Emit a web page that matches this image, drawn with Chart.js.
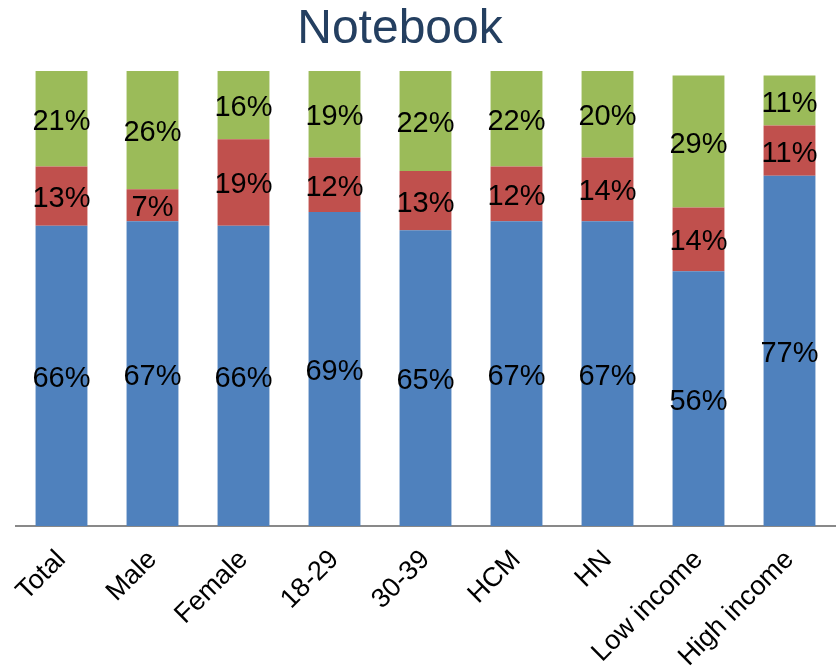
<!DOCTYPE html>
<html>
<head>
<meta charset="utf-8">
<script src="https://cdn.jsdelivr.net/npm/chart.js@4/dist/chart.umd.min.js"></script>
<style>
  html, body { margin: 0; padding: 0; background: #fff; }
  #wrap { width: 839px; height: 671px; }
</style>
</head>
<body>
<div id="wrap"><canvas id="chart"></canvas></div>
<script>
const categories = ['Total', 'Male', 'Female', '18-29', '30-39', 'HCM', 'HN', 'Low income', 'High income']
const blueValues = [66, 67, 66, 69, 65, 67, 67, 56, 77]
const redValues = [13, 7, 19, 12, 13, 12, 14, 14, 11]
const greenValues = [21, 26, 16, 19, 22, 22, 20, 29, 11]

const FONT = '"Liberation Sans", Arial, sans-serif'

// heading, a bit left of the plot centre
const heading = {
    id: 'heading',
    afterDraw(chart) {
        const ctx = chart.ctx
        ctx.save()
        ctx.font = '48px ' + FONT
        ctx.fillStyle = '#243F60'
        ctx.textAlign = 'center'
        ctx.textBaseline = 'alphabetic'
        ctx.fillText('Notebook', 400, 43)
        ctx.restore()
    }
}

// writes the value in the middle of every segment
const segmentLabels = {
    id: 'segmentLabels',
    afterDatasetsDraw(chart) {
        const ctx = chart.ctx
        ctx.save()
        ctx.font = '29px ' + FONT
        ctx.fillStyle = '#000'
        ctx.textAlign = 'center'
        ctx.textBaseline = 'middle'
        chart.data.datasets.forEach((ds, i) => {
            chart.getDatasetMeta(i).data.forEach((bar, j) => {
                const top = Math.max(bar.y, chart.chartArea.top)
                const y = (top + bar.base) / 2
                ctx.fillText(ds.data[j] + '%', bar.x, y + 3)
            })
        })
        ctx.restore()
    }
}

const ctx = document.getElementById('chart').getContext('2d')
const myChart = new Chart(ctx, {
    type: 'bar',
    data: {
        labels: categories,
        datasets: [
            { label: 'blue', data: blueValues, backgroundColor: '#4F81BD' },
            { label: 'red', data: redValues, backgroundColor: '#C0504D' },
            { label: 'green', data: greenValues, backgroundColor: '#9BBB59' }
        ]
    },
    options: {
        responsive: true,
        maintainAspectRatio: false,
        animation: false,
        layout: { padding: { left: 16, right: 4, top: 71, bottom: 0 } },
        datasets: {
            bar: { barPercentage: 0.57, categoryPercentage: 1, borderWidth: 0 }
        },
        plugins: {
            legend: { display: false },
            tooltip: { enabled: false },
            title: { display: false }
        },
        scales: {
            x: {
                stacked: true,
                grid: { display: false },
                border: { display: true, color: '#898989', width: 2 },
                ticks: {
                    color: '#000',
                    maxRotation: 45,
                    minRotation: 45,
                    padding: 10,
                    font: { family: FONT, size: 27 }
                },
                afterFit(scale) { scale.height = 145 }
            },
            y: {
                stacked: true,
                display: false,
                min: 0,
                max: 100
            }
        }
    },
    plugins: [segmentLabels, heading]
})
</script>
</body>
</html>
